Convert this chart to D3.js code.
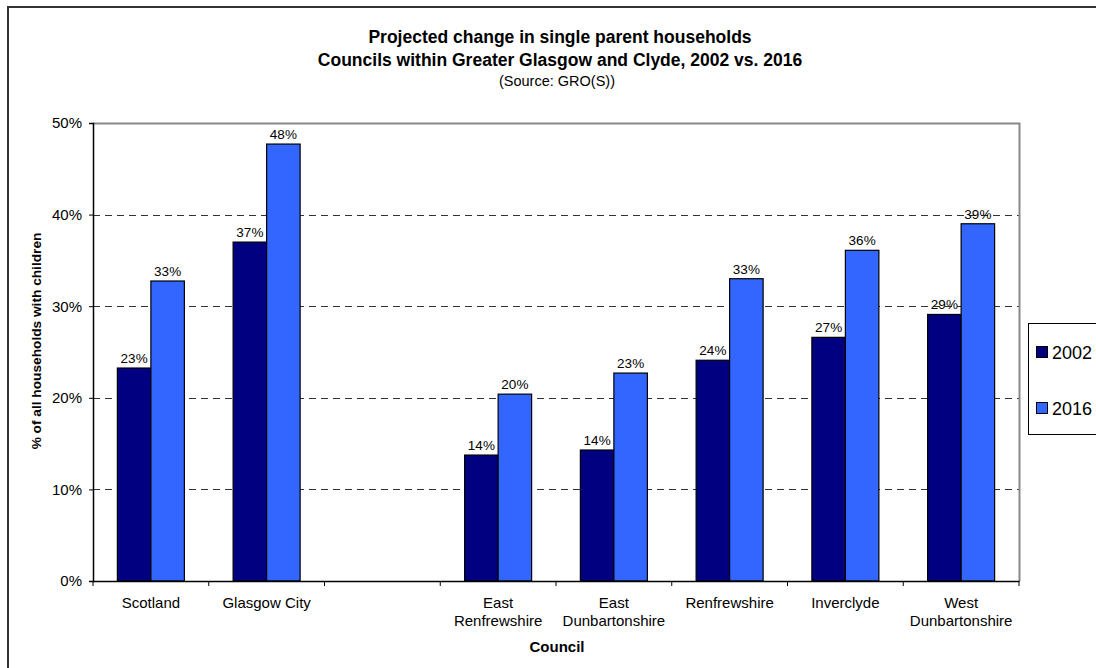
<!DOCTYPE html>
<html><head><meta charset="utf-8">
<script src="https://cdn.jsdelivr.net/npm/d3@7"></script>
<style>body{margin:0;background:#fff}svg{display:block;font-family:"Liberation Sans",Arial,sans-serif}</style>
</head><body>
<svg id="c" width="1096" height="668"></svg>
<script>
const categories = ["Scotland", "Glasgow City", "", "East Renfrewshire", "East Dunbartonshire", "Renfrewshire", "Inverclyde", "West Dunbartonshire"];
const categoryLines = [["Scotland"], ["Glasgow City"], [], ["East", "Renfrewshire"], ["East", "Dunbartonshire"], ["Renfrewshire"], ["Inverclyde"], ["West", "Dunbartonshire"]];
const seriesNames = ["2002", "2016"];
const values2002 = [0.2325, 0.370, null, 0.1375, 0.143, 0.241, 0.266, 0.291];
const values2016 = [0.3275, 0.477, null, 0.204, 0.227, 0.330, 0.361, 0.390];
const yTicks = [0, 0.1, 0.2, 0.3, 0.4, 0.5];
const colors = ["#000080", "#3366FF"];

const svg = d3.select("#c");
const m = {l: 93, t: 123, r: 1019, b: 581};

// outer chart border
svg.append("rect").attr("x", 8).attr("y", 7).attr("width", 1200).attr("height", 700)
  .attr("fill", "none").attr("stroke", "#333").attr("stroke-width", 2);

// titles
svg.append("text").attr("x", 560).attr("y", 43).attr("text-anchor", "middle")
  .attr("font-size", 17.5).attr("font-weight", "bold").text("Projected change in single parent households");
svg.append("text").attr("x", 560).attr("y", 66).attr("text-anchor", "middle")
  .attr("font-size", 17.5).attr("font-weight", "bold").text("Councils within Greater Glasgow and Clyde, 2002 vs. 2016");
svg.append("text").attr("x", 557).attr("y", 86).attr("text-anchor", "middle")
  .attr("font-size", 14.5).text("(Source: GRO(S))");

const x = d3.scaleBand().domain(d3.range(categories.length)).range([m.l, m.r]).paddingInner(0).paddingOuter(0);
const y = d3.scaleLinear().domain([0, 0.5]).range([m.b, m.t]);
const barW = 33.5;

// gridlines
svg.append("g").selectAll("line").data(yTicks.filter(d => d > 0 && d < 0.5)).join("line")
  .attr("x1", m.l).attr("x2", m.r).attr("y1", d => Math.round(y(d)) + 0.5).attr("y2", d => Math.round(y(d)) + 0.5)
  .attr("stroke", "#333").attr("stroke-dasharray", "7,5");

// plot border top/right
svg.append("path").attr("d", `M${m.l},${m.t + 0.5}H${m.r + 0.5}V${m.b}`).attr("fill", "none").attr("stroke", "#888").attr("stroke-width", 2);

// bars
const series = [values2002, values2016];
series.forEach((vals, si) => {
  const data = vals.map((v, i) => ({i, v})).filter(d => d.v != null);
  const g = svg.append("g");
  g.selectAll("rect").data(data).join("rect")
    .attr("x", d => x(d.i) + x.bandwidth() / 2 - barW + si * barW)
    .attr("y", d => y(d.v))
    .attr("width", barW).attr("height", d => y(0) - y(d.v))
    .attr("fill", colors[si]).attr("stroke", "#000").attr("stroke-width", 1.2);
  g.selectAll("text").data(data).join("text")
    .attr("x", d => x(d.i) + x.bandwidth() / 2 - barW / 2 + si * barW)
    .attr("y", d => y(d.v) - 5)
    .attr("text-anchor", "middle").attr("font-size", 13.5).attr("fill", "#000")
    .text(d => d3.format(".0%")(d.v));
});

// y axis
const yAxis = svg.append("g").attr("transform", `translate(${m.l},0)`)
  .call(d3.axisLeft(y).tickValues(yTicks).tickFormat(d3.format(".0%")).tickSize(4).tickPadding(7));
yAxis.selectAll("text").attr("font-size", 15).attr("font-family", "Liberation Sans, Arial, sans-serif").attr("fill", "#000");
yAxis.select(".domain").attr("stroke", "#000").attr("stroke-width", 1.5);
yAxis.selectAll(".tick line").attr("stroke", "#000");

// x axis
const xAxis = svg.append("g").attr("transform", `translate(0,${m.b})`)
  .call(d3.axisBottom(x).tickFormat("").tickSize(0));
xAxis.select(".domain").attr("stroke", "#000").attr("stroke-width", 1.5);
xAxis.selectAll(".tick").remove();
xAxis.selectAll("line.sep").data(d3.range(categories.length + 1)).join("line").attr("class", "sep")
  .attr("x1", d => d < categories.length ? x(d) : m.r).attr("x2", d => d < categories.length ? x(d) : m.r)
  .attr("y1", 0).attr("y2", 5).attr("stroke", "#000");

const labs = svg.append("g");
categoryLines.forEach((lines, i) => {
  lines.forEach((ln, j) => {
    labs.append("text").attr("x", x(i) + x.bandwidth() / 2).attr("y", 608 + j * 18)
      .attr("text-anchor", "middle").attr("font-size", 15).text(ln);
  });
});

// axis titles
svg.append("text").attr("x", 557).attr("y", 652).attr("text-anchor", "middle")
  .attr("font-size", 15).attr("font-weight", "bold").text("Council");
svg.append("text").attr("transform", `translate(41,341) rotate(-90)`).attr("text-anchor", "middle")
  .attr("font-size", 13.7).attr("font-weight", "bold").text("% of all households with children");

// legend
const lg = svg.append("g");
lg.append("rect").attr("x", 1028.5).attr("y", 323.5).attr("width", 100).attr("height", 111)
  .attr("fill", "#fff").attr("stroke", "#000");
seriesNames.forEach((s, i) => {
  const cy = 352 + i * 56;
  lg.append("rect").attr("x", 1036.5).attr("y", cy - 5.5).attr("width", 11).attr("height", 11)
    .attr("fill", colors[i]).attr("stroke", "#000");
  lg.append("text").attr("x", 1052).attr("y", cy + 6.5).attr("font-size", 18).text(s);
});
</script>
</body></html>
